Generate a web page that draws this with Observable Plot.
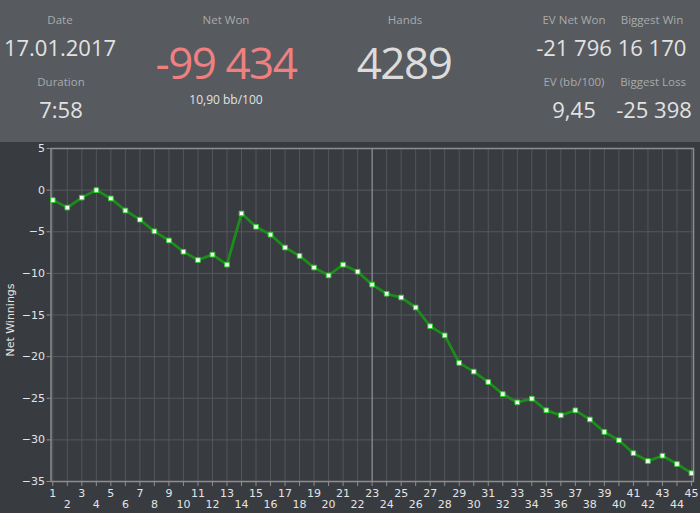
<!DOCTYPE html>
<html>
<head>
<meta charset="utf-8">
<script src="https://cdn.jsdelivr.net/npm/d3@7"></script>
<script src="https://cdn.jsdelivr.net/npm/@observablehq/plot@0.6"></script>
<style>
  html, body { margin: 0; padding: 0; background: #383b3f; }
  #wrap { position: relative; width: 700px; height: 513px; overflow: hidden; }
  #header { position: absolute; left: 0; top: 0; width: 700px; height: 142px; background: #575a5e; font-family: "Open Sans", "Noto Sans", sans-serif; }
  .c { position: absolute; transform: translate(-50%, -50%); white-space: nowrap; line-height: 1; }
  .lab { font-size: 11.5px; color: #a9abad; }
  .val { font-size: 22px; color: #e2e2e2; }
  .big { font-size: 44px; letter-spacing: -1.5px; color: #dcdcdc; }
  .sub { font-size: 12px; color: #e2e2e2; }
  #chart { position: absolute; left: 0; top: 142px; }
</style>
</head>
<body>
<div id="wrap">
  <div id="header"></div>
  <div id="chart"></div>
</div>
<script>
// ---- Header stats ----
const statLabels = ["Date", "Duration", "Net Won", "Hands", "EV Net Won", "Biggest Win", "EV (bb/100)", "Biggest Loss"];
const statValues = ["17.01.2017", "7:58", "-99 434", "4289", "-21 796", "16 170", "9,45", "-25 398"];
const netWonSub = "10,90 bb/100";

// ---- Chart data ----
const hands = d3.range(1, 46);
const netWinnings = [
  -1.2, -2.1, -0.9, 0.0, -1.0, -2.45, -3.55, -4.95, -6.05, -7.4,
  -8.4, -7.75, -8.95, -2.8, -4.4, -5.35, -6.9, -7.9, -9.3, -10.25,
  -8.95, -9.8, -11.35, -12.45, -12.9, -14.1, -16.35, -17.45, -20.75, -21.8,
  -23.05, -24.5, -25.5, -25.05, -26.45, -27.05, -26.45, -27.55, -29.05, -30.05,
  -31.6, -32.55, -31.9, -32.9, -34.0
];
const yTicks = [5, 0, -5, -10, -15, -20, -25, -30, -35];
const markerHand = [23];
const yLabel = "Net Winnings";

// ---- Header layout ----
const header = document.getElementById("header");
function place(text, cls, x, y, color) {
  const d = document.createElement("div");
  d.className = "c " + cls;
  d.textContent = text;
  d.style.left = x + "px";
  d.style.top = y + "px";
  if (color) d.style.color = color;
  header.appendChild(d);
}
// labels
place(statLabels[0], "lab", 60, 20);
place(statLabels[1], "lab", 61, 82);
place(statLabels[2], "lab", 226, 20);
place(statLabels[3], "lab", 405, 20);
place(statLabels[4], "lab", 574, 20);
place(statLabels[5], "lab", 652, 20);
place(statLabels[6], "lab", 574, 82);
place(statLabels[7], "lab", 653, 82);
// values
place(statValues[0], "val", 60, 47);
place(statValues[1], "val", 61, 109);
place(statValues[2], "big", 226, 62, "#f08080");
place(statValues[3], "big", 404, 62);
place(statValues[4], "val", 574, 47);
place(statValues[5], "val", 652, 47);
place(statValues[6], "val", 574, 109);
place(statValues[7], "val", 654, 109);
place(netWonSub, "sub", 226, 100);

// ---- Chart ----
const data = hands.map((h, i) => ({hand: h, value: netWinnings[i]}));
const oddHands = hands.filter(h => h % 2 === 1);
const evenHands = hands.filter(h => h % 2 === 0);
const green = "#1c8c1c";

const chart = Plot.plot({
  width: 700,
  height: 371,
  marginTop: 6,
  marginBottom: 32,
  marginLeft: 50.5,
  marginRight: 7,
  style: {background: "#383b3f", color: "#e4e4e4", fontFamily: "DejaVu Sans, Verdana, sans-serif", fontSize: "11px"},
  x: {domain: [0.876, 45.14], axis: null},
  y: {domain: [-35, 5], axis: null},
  marks: [
    Plot.gridX(hands, {stroke: "#53565b", strokeOpacity: 1}),
    Plot.gridY(yTicks, {stroke: "#55585d", strokeOpacity: 1}),
    Plot.ruleX(markerHand, {stroke: "#9a9c9e", strokeWidth: 1}),
    Plot.frame({stroke: "#8e8e8e", strokeWidth: 1.5}),
    Plot.axisX({ticks: hands, tickSize: 5, tickFormat: () => "", label: null, stroke: "#8e8e8e"}),
    Plot.text(oddHands, {x: d => d, frameAnchor: "bottom", lineAnchor: "middle", dy: 12, text: d => String(d), fill: "#e4e4e4", fontSize: 11}),
    Plot.text(evenHands, {x: d => d, frameAnchor: "bottom", lineAnchor: "middle", dy: 22.5, text: d => String(d), fill: "#e4e4e4", fontSize: 11}),
    Plot.axisY({ticks: yTicks, tickSize: 4, tickPadding: 2, label: null, stroke: "#8e8e8e", fontSize: 11}),
    Plot.text([yLabel], {frameAnchor: "left", textAnchor: "middle", lineAnchor: "middle", dx: -41, dy: 5, rotate: -90, fill: "#e4e4e4", fontSize: 11}),
    Plot.line(data, {x: "hand", y: "value", stroke: green, strokeWidth: 2.8}),
    Plot.dot(data, {x: "hand", y: "value", symbol: "square", r: 2.6, fill: "#ffffff", stroke: "#2ccf2c", strokeWidth: 1})
  ]
});
document.getElementById("chart").appendChild(chart);
</script>
</body>
</html>
